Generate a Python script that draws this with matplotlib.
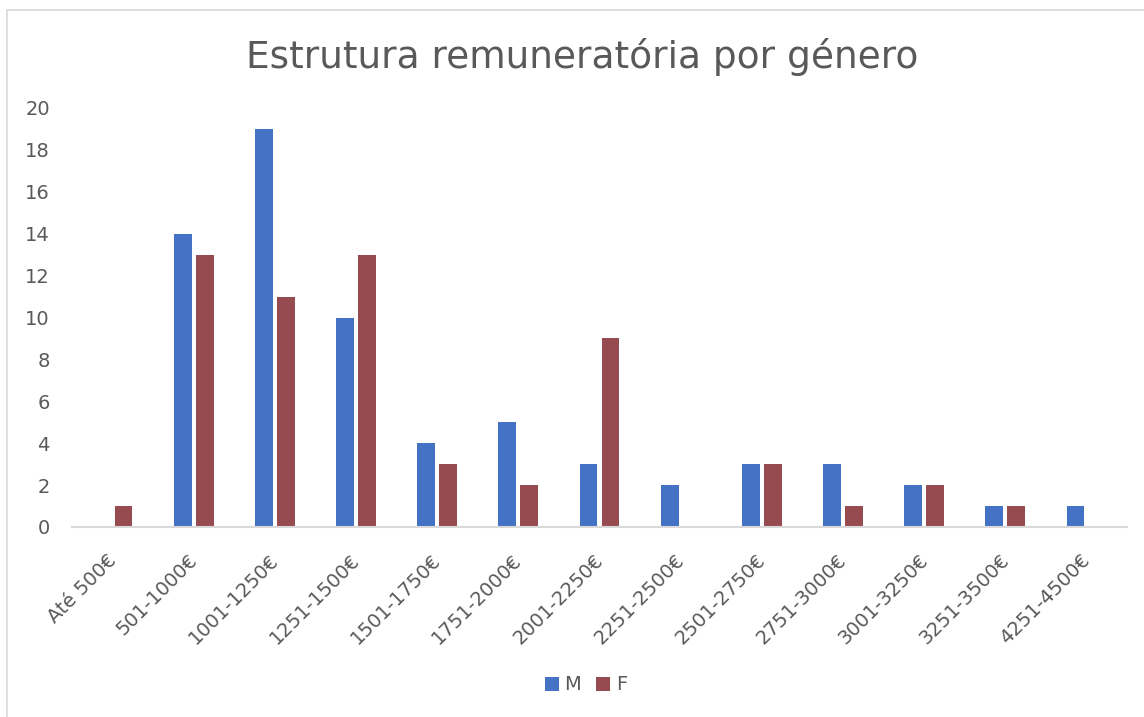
#!/usr/bin/env python3
"""Salary bands by gender, Excel-style clustered columns."""

import matplotlib

matplotlib.use("Agg")

import matplotlib.pyplot as plt
import matplotlib.transforms as mtransforms
import numpy as np
from matplotlib.patches import Rectangle

CATEGORIES = [
    "Até 500€", "501-1000€", "1001-1250€", "1251-1500€", "1501-1750€",
    "1751-2000€", "2001-2250€", "2251-2500€", "2501-2750€", "2751-3000€",
    "3001-3250€", "3251-3500€", "4251-4500€",
]
MALE = [0, 14, 19, 10, 4, 5, 3, 2, 3, 3, 2, 1, 1]
FEMALE = [1, 13, 11, 13, 3, 2, 9, 0, 3, 1, 2, 1, 0]
Y_TICKS = list(range(0, 21, 2))

BLUE = "#4472C4"
RED = "#964B51"
TEXT = "#595959"

W, H = 1144, 717

plt.rcParams["font.family"] = ["DejaVu Sans"]
fig = plt.figure(figsize=(W / 100, H / 100), dpi=100)

# outer chart frame (cropped on the right and bottom in the original)
fig.patches.append(Rectangle((7 / W, -0.1), 1.2, 1 - 10 / H + 0.1, transform=fig.transFigure,
                             fill=False, edgecolor="#d9d9d9", linewidth=1.2))

ax = fig.add_axes([72 / W, 1 - 527 / H, (1127 - 72) / W, (527 - 108) / H])
x = np.arange(len(CATEGORIES))
width = 0.22
ax.bar(x - 0.135, MALE, width, color=BLUE, label="M")
ax.bar(x + 0.135, FEMALE, width, color=RED, label="F")

ax.set_xlim(-0.5, len(CATEGORIES) - 0.5)
ax.set_ylim(0, 20)
ax.set_yticks(Y_TICKS)
ax.set_xticks(x)
ax.set_xticklabels(CATEGORIES, rotation=45, ha="right", rotation_mode="anchor")
ax.tick_params(axis="both", length=0, labelsize=14, labelcolor=TEXT)
ax.tick_params(axis="y", pad=16)
ax.tick_params(axis="x", pad=17)
shift = mtransforms.ScaledTranslation(-6 / 100, 0, fig.dpi_scale_trans)
for lab in ax.get_xticklabels():
    lab.set_transform(lab.get_transform() + shift)

for side in ("top", "right", "left"):
    ax.spines[side].set_visible(False)
ax.spines["bottom"].set_color("#d9d9d9")
ax.spines["bottom"].set_linewidth(1.5)

fig.text(582 / W, 1 - 68 / H, "Estrutura remuneratória por género", ha="center", va="baseline",
         fontsize=27, color=TEXT)

fig.legend(loc="center", bbox_to_anchor=(586 / W, 1 - 685 / H), ncol=2, frameon=False,
           fontsize=14, labelcolor=TEXT, handlelength=0.72, handleheight=0.72,
           handletextpad=0.3, columnspacing=0.77)

fig.savefig("out.png", dpi=100)
